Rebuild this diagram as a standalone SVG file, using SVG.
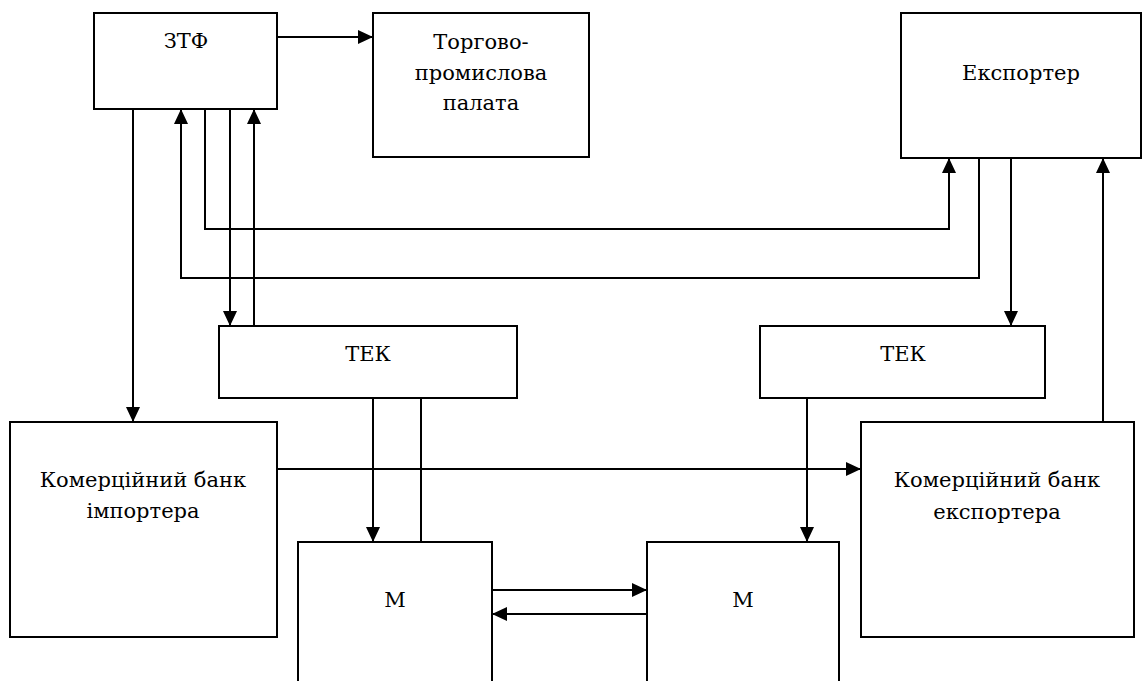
<svg xmlns="http://www.w3.org/2000/svg" width="1143" height="681" viewBox="0 0 1143 681">
<defs>
<style>
.box{fill:#fff;stroke:#000;stroke-width:2}
.t{font-family:"DejaVu Serif","Liberation Serif","Noto Serif","Times New Roman",serif;font-size:21px;fill:#000;text-anchor:middle}
.c{fill:none;stroke:#000;stroke-width:2}
</style>
<marker id="ah" markerUnits="userSpaceOnUse" markerWidth="15" markerHeight="14" refX="15" refY="7" orient="auto">
<path d="M0,0 L15,7 L0,14 z" fill="#000"/>
</marker>
</defs>
<rect width="1143" height="681" fill="#fff"/>
<g id="ztf"><rect class="box" x="94" y="13" width="183" height="96"/><text class="t" x="186" y="48">ЗТФ</text></g>
<g id="tpp"><rect class="box" x="373" y="13" width="216" height="144"/><text class="t" x="481" y="49">Торгово-</text><text class="t" x="481" y="80">промислова</text><text class="t" x="481" y="110">палата</text></g>
<g id="exporter"><rect class="box" x="901" y="13" width="240" height="145"/><text class="t" x="1021" y="80">Експортер</text></g>
<g id="tek1"><rect class="box" x="219" y="326" width="298" height="72"/><text class="t" x="368" y="361">ТЕК</text></g>
<g id="tek2"><rect class="box" x="760" y="326" width="285" height="72"/><text class="t" x="903" y="361">ТЕК</text></g>
<g id="bank-imp"><rect class="box" x="10" y="422" width="267" height="215"/><text class="t" x="143" y="487">Комерційний банк</text><text class="t" x="143" y="518">імпортера</text></g>
<g id="bank-exp"><rect class="box" x="861" y="422" width="273" height="215"/><text class="t" x="997" y="487">Комерційний банк</text><text class="t" x="997" y="519">експортера</text></g>
<g id="m1"><rect class="box" x="298" y="542" width="194" height="160"/><text class="t" x="395" y="607">М</text></g>
<g id="m2"><rect class="box" x="647" y="542" width="192" height="160"/><text class="t" x="743" y="607">М</text></g>
<g id="connectors">
<path class="c" d="M277,37 H373" marker-end="url(#ah)"/>
<path class="c" d="M133,109 V422" marker-end="url(#ah)"/>
<path class="c" d="M979,158 V278 H181 V109" marker-end="url(#ah)"/>
<path class="c" d="M205,109 V229 H949 V158" marker-end="url(#ah)"/>
<path class="c" d="M230,109 V326" marker-end="url(#ah)"/>
<path class="c" d="M254,326 V109" marker-end="url(#ah)"/>
<path class="c" d="M1011,158 V326" marker-end="url(#ah)"/>
<path class="c" d="M1103,422 V158" marker-end="url(#ah)"/>
<path class="c" d="M277,469 H861" marker-end="url(#ah)"/>
<path class="c" d="M373,398 V542" marker-end="url(#ah)"/>
<path class="c" d="M421,398 V542"/>
<path class="c" d="M807,398 V542" marker-end="url(#ah)"/>
<path class="c" d="M492,590 H647" marker-end="url(#ah)"/>
<path class="c" d="M647,614 H492" marker-end="url(#ah)"/>
</g>
</svg>
